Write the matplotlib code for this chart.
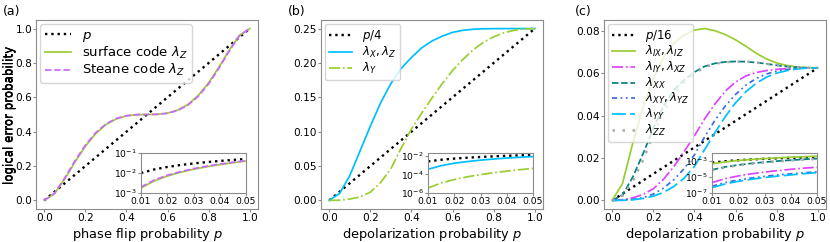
import matplotlib
matplotlib.use("Agg")
import matplotlib.pyplot as plt

# depolarization / flip probability grid (main panels)
p_grid = [0.00, 0.05, 0.10, 0.15, 0.20, 0.25, 0.30, 0.35, 0.40, 0.45, 0.50,
          0.55, 0.60, 0.65, 0.70, 0.75, 0.80, 0.85, 0.90, 0.95, 1.00]
# grid for the small-p insets
p_small = [0.010, 0.015, 0.020, 0.025, 0.030, 0.035, 0.040, 0.045, 0.050]

# ---- (a) phase flip
a_ref = [0.00, 0.05, 0.10, 0.15, 0.20, 0.25, 0.30, 0.35, 0.40, 0.45, 0.50,
         0.55, 0.60, 0.65, 0.70, 0.75, 0.80, 0.85, 0.90, 0.95, 1.00]
a_surface = [0.0, 0.0390, 0.1250, 0.2240, 0.3150, 0.3880, 0.4410, 0.4740, 0.4920, 0.4990, 0.5000,
             0.5010, 0.5080, 0.5260, 0.5590, 0.6120, 0.6850, 0.7760, 0.8750, 0.9610, 1.0]
a_steane = [0.0, 0.0415, 0.1306, 0.2308, 0.3215, 0.3936, 0.4446, 0.4765, 0.4930, 0.4991, 0.5000,
            0.5009, 0.5070, 0.5235, 0.5554, 0.6064, 0.6785, 0.7692, 0.8694, 0.9585, 1.0]
a_ref_in = [0.010, 0.015, 0.020, 0.025, 0.030, 0.035, 0.040, 0.045, 0.050]
a_surface_in = [0.00178, 0.00398, 0.00700, 0.01080, 0.01530, 0.02050, 0.02630, 0.03260, 0.03950]
a_steane_in = [0.00200, 0.00441, 0.00765, 0.01167, 0.01642, 0.02183, 0.02784, 0.03441, 0.04149]

# ---- (b) depolarization, single logical qubit
b_ref = [0.0, 0.0125, 0.025, 0.0375, 0.05, 0.0625, 0.075, 0.0875, 0.10, 0.1125, 0.125,
         0.1375, 0.15, 0.1625, 0.175, 0.1875, 0.20, 0.2125, 0.225, 0.2375, 0.25]
b_xz = [0.0, 0.010, 0.036, 0.072, 0.108, 0.142, 0.170, 0.192, 0.208, 0.222, 0.232,
        0.239, 0.2445, 0.2475, 0.249, 0.2497, 0.2499, 0.25, 0.25, 0.25, 0.25]
b_y = [0.0, 0.0004, 0.002, 0.005, 0.012, 0.026, 0.046, 0.076, 0.104, 0.127, 0.149,
       0.170, 0.189, 0.205, 0.219, 0.230, 0.238, 0.244, 0.2475, 0.2495, 0.25]
b_ref_in = [0.0025, 0.00375, 0.005, 0.00625, 0.0075, 0.00875, 0.010, 0.01125, 0.0125]
b_xz_in = [3.6e-4, 8.6e-4, 1.6e-3, 2.4e-3, 3.4e-3, 4.5e-3, 5.7e-3, 7.0e-3, 8.3e-3]
b_y_in = [3.5e-6, 1.18e-5, 2.8e-5, 5.5e-5, 9.5e-5, 1.5e-4, 2.24e-4, 3.2e-4, 4.4e-4]

# ---- (c) depolarization, two logical qubits
c_ref = [0.0, 0.003125, 0.00625, 0.009375, 0.0125, 0.015625, 0.01875, 0.021875, 0.025, 0.028125,
         0.03125, 0.034375, 0.0375, 0.040625, 0.04375, 0.046875, 0.05, 0.053125, 0.05625, 0.059375, 0.0625]
c_ix = [0.0, 0.008, 0.027, 0.044, 0.0575, 0.0675, 0.0742, 0.0780, 0.0803, 0.0810, 0.0800,
        0.0782, 0.0757, 0.0727, 0.0694, 0.0667, 0.0648, 0.0636, 0.0629, 0.0626, 0.0625]
c_iy = [0.0, 0.0003, 0.0012, 0.0028, 0.0055, 0.0100, 0.0160, 0.0230, 0.0305, 0.0385, 0.0455,
        0.0515, 0.0558, 0.0587, 0.0603, 0.0612, 0.0618, 0.0621, 0.0623, 0.0624, 0.0625]
c_xx = [0.0, 0.0025, 0.011, 0.022, 0.034, 0.0445, 0.052, 0.0567, 0.0605, 0.0632, 0.0646,
        0.0653, 0.0655, 0.0654, 0.0650, 0.0644, 0.0637, 0.0631, 0.0627, 0.0625, 0.0625]
c_xy = [0.0, 0.0001, 0.0005, 0.0013, 0.0030, 0.0058, 0.0098, 0.0150, 0.0215, 0.0300, 0.0378,
        0.0445, 0.0500, 0.0543, 0.0575, 0.0596, 0.0609, 0.0617, 0.0622, 0.0624, 0.0625]
c_yy = [0.0, 0.00005, 0.0003, 0.0009, 0.0020, 0.0038, 0.0066, 0.0105, 0.0160, 0.0240, 0.0320,
        0.0395, 0.0460, 0.0512, 0.0552, 0.0581, 0.0600, 0.0612, 0.0620, 0.0624, 0.0625]
c_zz = [0.0, 0.0022, 0.009, 0.019, 0.031, 0.042, 0.050, 0.0555, 0.0598, 0.0628, 0.0644,
        0.0652, 0.0654, 0.0654, 0.0650, 0.0644, 0.0637, 0.0631, 0.0627, 0.0625, 0.0625]
c_ref_in = [0.000625, 0.0009375, 0.00125, 0.0015625, 0.001875, 0.0021875, 0.0025, 0.0028125, 0.003125]
c_ix_in = [4.5e-4, 7.6e-4, 1.15e-3, 1.57e-3, 2.0e-3, 2.45e-3, 2.95e-3, 3.45e-3, 4.0e-3]
c_iy_in = [2.0e-6, 6.1e-6, 1.36e-5, 2.5e-5, 4.1e-5, 6.3e-5, 9.1e-5, 1.27e-4, 1.7e-4]
c_xx_in = [8.0e-5, 1.8e-4, 3.2e-4, 5.0e-4, 7.2e-4, 9.8e-4, 1.28e-3, 1.62e-3, 2.0e-3]
c_xy_in = [7.0e-7, 2.0e-6, 4.2e-6, 7.5e-6, 1.2e-5, 1.8e-5, 2.5e-5, 3.4e-5, 4.5e-5]
c_yy_in = [4.7e-7, 1.35e-6, 2.9e-6, 5.2e-6, 8.5e-6, 1.28e-5, 1.8e-5, 2.6e-5, 3.5e-5]
c_zz_in = [7.0e-5, 1.6e-4, 2.9e-4, 4.5e-4, 6.5e-4, 8.8e-4, 1.15e-3, 1.46e-3, 1.8e-3]

GREEN = "yellowgreen"
PURPLE = "#cc66ff"
SKY = "deepskyblue"
TEAL = "teal"
ROYAL = "royalblue"
MAG = "#dd44ff"
GRAY = "darkgray"
EDGE = "#8c8c8c"

plt.rcParams["axes.edgecolor"] = EDGE

fig = plt.figure(figsize=(8.3, 2.42), dpi=100)
W, H = 830.0, 242.0
AX_W, AX_BOT, AX_TOP = 222.0, 209.0, 20.0


def main_ax(left):
    ax = fig.add_axes([left / W, (H - AX_BOT) / H, AX_W / W, (AX_BOT - AX_TOP) / H])
    ax.set_xlim(-0.04, 1.04)
    return ax


def inset_ax(left):
    return fig.add_axes([left / W, (H - 193) / H, 105 / W, 40 / H])


def style_main(ax, left, xlabel):
    ax.set_xticks([0.0, 0.2, 0.4, 0.6, 0.8, 1.0])
    ax.tick_params(labelsize=7.6, color=EDGE, length=2, pad=0.8)
    ax.set_xlabel(xlabel, fontsize=9.4, va="top")
    ax.xaxis.set_label_coords(0.5, -(225.6 - AX_BOT) / (AX_BOT - AX_TOP))
    ax.set_ylabel("logical error probability", fontsize=8.5, va="center")
    ax.yaxis.set_label_coords(-(left - 10) / AX_W, 0.5)


def style_inset(ax, yticks):
    ax.set_yscale("log")
    ax.set_xlim(0.01, 0.05)
    ax.set_xticks([0.01, 0.02, 0.03, 0.04, 0.05])
    ax.set_yticks(yticks)
    ax.minorticks_off()
    ax.tick_params(labelsize=6.6, color=EDGE, length=2, pad=1)


LW = 1.25
dot = dict(color="black", linestyle=":", linewidth=1.7)
leg = dict(loc="upper left", borderpad=0.35, borderaxespad=0.3)

# (a)
ax = main_ax(36)
ax.plot(p_grid, a_ref, label="$p$", **dot)
ax.plot(p_grid, a_surface, color=GREEN, lw=LW, label=r"surface code $\lambda_Z$")
ax.plot(p_grid, a_steane, color=PURPLE, lw=LW, ls="--", label=r"Steane code $\lambda_Z$")
ax.set_yticks([0.0, 0.2, 0.4, 0.6, 0.8, 1.0])
style_main(ax, 36, "phase flip probability $p$")
ax.legend(fontsize=9.5, labelspacing=0.1, **leg)
fig.text(3 / W, 1 - 12 / H, "(a)", fontsize=9, va="center")
ia = inset_ax(141)
ia.plot(p_small, a_ref_in, **dot)
ia.plot(p_small, a_surface_in, color=GREEN, lw=LW)
ia.plot(p_small, a_steane_in, color=PURPLE, lw=LW, ls="--")
ia.set_ylim(1e-3, 1e-1)
style_inset(ia, [1e-3, 1e-2, 1e-1])

# (b)
ax = main_ax(321)
ax.plot(p_grid, b_ref, label="$p/4$", **dot)
ax.plot(p_grid, b_xz, color=SKY, lw=LW, label=r"$\lambda_X, \lambda_Z$")
ax.plot(p_grid, b_y, color=GREEN, lw=LW, ls="-.", label=r"$\lambda_Y$")
ax.set_yticks([0.0, 0.05, 0.10, 0.15, 0.20, 0.25])
ax.set_yticklabels(["0.00", "0.05", "0.10", "0.15", "0.20", "0.25"])
style_main(ax, 321, "depolarization probability $p$")
ax.legend(fontsize=8.5, labelspacing=0.1, **leg)
fig.text(288 / W, 1 - 12 / H, "(b)", fontsize=9, va="center")
ib = inset_ax(428)
ib.plot(p_small, b_ref_in, **dot)
ib.plot(p_small, b_xz_in, color=SKY, lw=LW)
ib.plot(p_small, b_y_in, color=GREEN, lw=LW, ls="-.")
ib.set_ylim(1e-6, 2e-2)
style_inset(ib, [1e-6, 1e-4, 1e-2])

# (c)
ax = main_ax(604)
ax.plot(p_grid, c_ref, label="$p/16$", **dot)
ax.plot(p_grid, c_ix, color=GREEN, lw=LW, label=r"$\lambda_{IX}, \lambda_{IZ}$")
ax.plot(p_grid, c_iy, color=MAG, lw=LW, ls="-.", label=r"$\lambda_{IY}, \lambda_{XZ}$")
ax.plot(p_grid, c_xx, color=TEAL, lw=LW, ls="--", label=r"$\lambda_{XX}$")
ax.plot(p_grid, c_xy, color=ROYAL, lw=LW, ls=(0, (3, 2, 1, 2, 1, 2)),
        label=r"$\lambda_{XY}, \lambda_{YZ}$")
ax.plot(p_grid, c_yy, color=SKY, lw=LW, ls=(0, (8, 2.5)), label=r"$\lambda_{YY}$")
ax.plot(p_grid, c_zz, color=GRAY, lw=1.8, ls=(0, (1, 3)), label=r"$\lambda_{ZZ}$")
ax.set_yticks([0.0, 0.02, 0.04, 0.06, 0.08])
ax.set_yticklabels(["0.00", "0.02", "0.04", "0.06", "0.08"])
style_main(ax, 604, "depolarization probability $p$")
ax.legend(fontsize=8.5, labelspacing=0.05, **leg)
fig.text(575 / W, 1 - 12 / H, "(c)", fontsize=9, va="center")
ic = inset_ax(712)
ic.plot(p_small, c_ref_in, **dot)
ic.plot(p_small, c_ix_in, color=GREEN, lw=LW)
ic.plot(p_small, c_iy_in, color=MAG, lw=LW, ls="-.")
ic.plot(p_small, c_xx_in, color=TEAL, lw=LW, ls="--")
ic.plot(p_small, c_xy_in, color=ROYAL, lw=LW, ls=(0, (3, 2, 1, 2, 1, 2)))
ic.plot(p_small, c_yy_in, color=SKY, lw=LW, ls=(0, (8, 2.5)))
ic.plot(p_small, c_zz_in, color=GRAY, lw=1.8, ls=(0, (1, 3)))
ic.set_ylim(1e-7, 1e-2)
style_inset(ic, [1e-7, 1e-5, 1e-3])

fig.savefig("out.png", dpi=100)
